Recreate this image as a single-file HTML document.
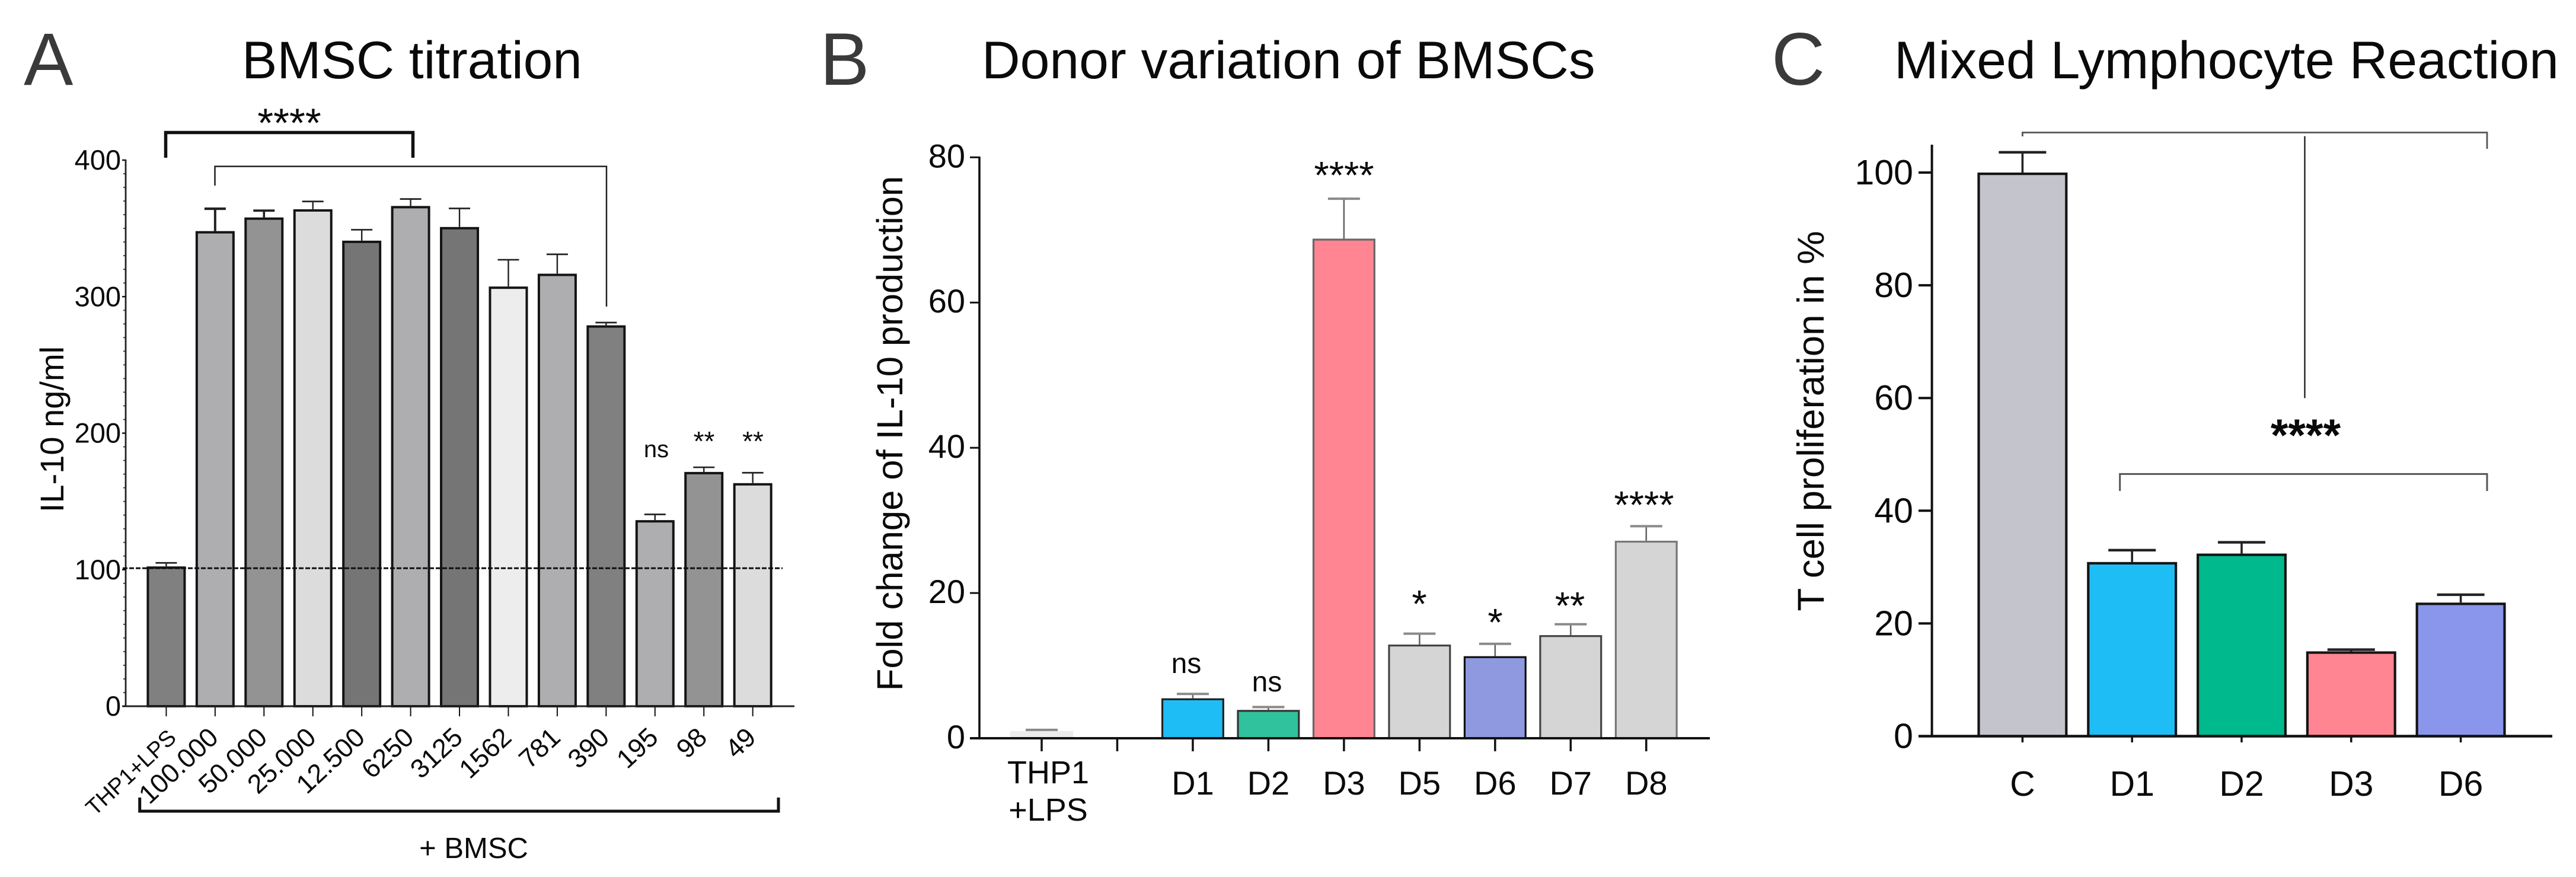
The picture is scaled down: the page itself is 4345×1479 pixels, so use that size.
<!DOCTYPE html>
<html lang="en">
<head>
<meta charset="utf-8">
<title>BMSC titration, donor variation and mixed lymphocyte reaction</title>
<style>
  html, body { margin: 0; padding: 0; background: #fff; }
  svg { display: block; }
  text { font-family: "Liberation Sans", sans-serif; fill: #0a0a0a; }
</style>
</head>
<body>
<svg id="figure" xmlns="http://www.w3.org/2000/svg" width="4345" height="1479" viewBox="0 0 4345 1479">
  <rect x="0" y="0" width="4345" height="1479" fill="#fff"/>

  <!-- Panel letters and titles -->
  <text x="40" y="143" font-size="125" style="fill:#3a3a3a">A</text>
  <text x="1383" y="143" font-size="125" style="fill:#3a3a3a">B</text>
  <text x="2988" y="143" font-size="125" style="fill:#3a3a3a">C</text>
  <text x="408" y="132" font-size="89">BMSC titration</text>
  <text x="1656" y="132" font-size="89.5">Donor variation of BMSCs</text>
  <text x="3195" y="132" font-size="89.5">Mixed Lymphocyte Reaction</text>

  <!-- Axis titles -->
  <text transform="translate(107 724) rotate(-90)" text-anchor="middle" font-size="56">IL-10 ng/ml</text>
  <text transform="translate(1522 731) rotate(-90)" text-anchor="middle" font-size="61.5">Fold change of IL-10 production</text>
  <text transform="translate(3076 710) rotate(-90)" text-anchor="middle" font-size="63.5">T cell proliferation in %</text>

  <g id="panel-a"></g>
  <g id="panel-b"></g>
  <g id="panel-c"></g>

  <!-- Panel A annotations -->
  <path d="M279.5 266V223.5H696.5V266" fill="none" stroke="#111" stroke-width="5.5"/>
  <path d="M362.5 313V280.6H1023V517" fill="none" stroke="#222" stroke-width="2.5"/>
  <text x="488" y="231" text-anchor="middle" font-size="69">****</text>
  <text x="1107" y="771" text-anchor="middle" font-size="40">ns</text>
  <text x="1187.5" y="760" text-anchor="middle" font-size="46">**</text>
  <text x="1270" y="760" text-anchor="middle" font-size="46">**</text>
  <path d="M235.7 1345V1368H1313V1345" fill="none" stroke="#111" stroke-width="5"/>
  <text x="799" y="1447" text-anchor="middle" font-size="49">+ BMSC</text>

  <!-- Panel B annotations -->
  <text x="2001" y="1135" text-anchor="middle" font-size="48">ns</text>
  <text x="2137" y="1166" text-anchor="middle" font-size="48">ns</text>
  <text x="2267" y="318" text-anchor="middle" font-size="65">****</text>
  <text x="2394" y="1041" text-anchor="middle" font-size="65">*</text>
  <text x="2522" y="1072" text-anchor="middle" font-size="65">*</text>
  <text x="2648" y="1044" text-anchor="middle" font-size="65">**</text>
  <text x="2773" y="874" text-anchor="middle" font-size="65">****</text>

  <!-- Panel C annotations -->
  <path d="M3411.4 230V223.5H4195V251" fill="none" stroke="#555" stroke-width="2.8"/>
  <line x1="3887.5" y1="229.6" x2="3887.5" y2="671.4" stroke="#111" stroke-width="2.2"/>
  <path d="M3575.7 828V799.4H4195V828" fill="none" stroke="#555" stroke-width="3"/>
  <text x="3889" y="760" text-anchor="middle" font-size="76" font-weight="bold">****</text>
</svg>

<script>
// ---- Panel A data: BMSC titration ----
const aCategories = ['THP1+LPS', '100.000', '50.000', '25.000', '12.500', '6250', '3125', '1562', '781', '390', '195', '98', '49'];
const aValues = [102.4, 348, 358, 364, 341, 366.4, 351, 307.4, 316.8, 279, 136.3, 171.6, 163.4];
const aErrors = [2.6, 16.4, 5, 5.7, 8, 5.1, 13.6, 19.6, 14.2, 2, 4.2, 3.4, 7.6];
const aYTickLabels = [0, 100, 200, 300, 400];
const aReferenceLine = [100];

// ---- Panel B data: donor variation ----
const bCategories = ['THP1 +LPS', '', 'D1', 'D2', 'D3', 'D5', 'D6', 'D7', 'D8'];
const bValues = [1.0, 0, 5.5, 3.9, 68.8, 12.9, 11.3, 14.2, 27.2];
const bErrors = [0.15, 0, 0.6, 0.4, 5.5, 1.5, 1.7, 1.5, 2.0];
const bYTickLabels = [0, 20, 40, 60, 80];

// ---- Panel C data: mixed lymphocyte reaction ----
const cCategories = ['C', 'D1', 'D2', 'D3', 'D6'];
const cValues = [100, 30.9, 32.4, 15.05, 23.7];
const cErrors = [3.6, 2.1, 2, 0.3, 1.4];
const cYTickLabels = [0, 20, 40, 60, 80, 100];

// ---- Bar styling (separate from the data) ----
const aFills = ['#808080', '#aeaeb0', '#939393', '#dcdcdc', '#757575', '#aeaeb0', '#757575', '#ededed', '#aeaeb0', '#808080', '#aeaeb0', '#939393', '#dcdcdc'];
const aErrorWeights = [2.4, 4, 3.6, 2.4, 2.4, 2.4, 2.4, 2.4, 2.4, 2.4, 2.4, 2.4, 2.4];
const bFills = ['#ececec', 'none', '#1fbdf6', '#2fc29c', '#ff8592', '#d5d5d5', '#8f99df', '#d5d5d5', '#d5d5d5'];
const bStrokes = ['#ececec', 'none', '#222', '#333', '#666', '#444', '#111', '#444', '#777'];
const cFills = ['#c3c4cc', '#1fbdf6', '#00b98c', '#ff8592', '#8a96ec'];

const NS = 'http://www.w3.org/2000/svg';
function el(tag, attrs, parent) {
  const node = document.createElementNS(NS, tag);
  for (const key in attrs) node.setAttribute(key, attrs[key]);
  parent.appendChild(node);
  return node;
}
function slug(s) {
  return String(s).toLowerCase().replace(/[^a-z0-9]+/g, '-').replace(/^-|-$/g, '') || 'blank';
}

// Axis functions
const aY = v => 1191 - v * 2.3025;
const aX = i => 280.4 + i * 82.44;
const bY = v => 1245 - v * 12.246;
const bX = i => 1757 + i * 127.47;
const cY = v => 1241.5 - v * 9.505;
const cX = i => 3411.4 + i * 184.8;

function drawBars(group, cats, vals, errs, xFn, yFn, opt) {
  cats.forEach(function (cat, i) {
    if (opt.fills[i] === 'none') return;
    const sw = opt.strokeWidth;
    const top = yFn(vals[i]);
    const base = yFn(0);
    const stroke = opt.strokes ? opt.strokes[i] : opt.stroke;
    const rect = el('rect', {
      x: xFn(i) - opt.width / 2 + sw / 2,
      y: top + sw / 2,
      width: opt.width - sw,
      height: Math.max(0, base - top - sw / 2),
      fill: opt.fills[i],
      stroke: stroke,
      'stroke-width': sw
    }, group);
    
    

    const errTop = yFn(vals[i] + errs[i]);
    const errW = opt.errWeights ? opt.errWeights[i] : opt.errWidth;
    const capW = opt.errWeights ? opt.errWeights[i] + 0.3 : opt.capWidth;
    const errStem = el('line', { x1: xFn(i), y1: top, x2: xFn(i), y2: errTop, stroke: opt.errColor, 'stroke-width': errW }, group);
    
    
    const errCap = el('line', { x1: xFn(i) - opt.capHalf, y1: errTop, x2: xFn(i) + opt.capHalf, y2: errTop, stroke: opt.capColor, 'stroke-width': capW }, group);
    
    
  });
}

function drawYTicks(group, labels, yFn, opt) {
  labels.forEach(function (v) {
    const tick = el('line', { x1: opt.tickX1, y1: yFn(v), x2: opt.axisX, y2: yFn(v), stroke: '#111', 'stroke-width': opt.tickWidth }, group);
    
    
    const label = el('text', { x: opt.labelX, y: yFn(v) + opt.labelDy, 'text-anchor': 'end', 'font-size': opt.fontSize }, group);
    label.textContent = v;
    
    
  });
}

function drawXTicks(group, cats, xFn, y0, y1, width) {
  cats.forEach(function (cat, i) {
    const tick = el('line', { x1: xFn(i), y1: y0, x2: xFn(i), y2: y1, stroke: '#111', 'stroke-width': width }, group);
    
    
  });
}

// ---- Panel A ----
(function () {
  const g = document.getElementById('panel-a');
  for (let v = 0; v <= 400; v += 10) {
    if (v % 100 === 0) continue;
    const minor = el('line', { x1: 208, y1: aY(v), x2: 212, y2: aY(v), stroke: '#333', 'stroke-width': 1.8 }, g);
    
    
  }
  drawBars(g, aCategories, aValues, aErrors, aX, aY, {
    width: 66, strokeWidth: 4, stroke: '#141414', fills: aFills, errWeights: aErrorWeights,
    errColor: '#222', capColor: '#222', capHalf: 18
  });
  drawXTicks(g, aCategories, aX, 1191, 1208, 2);
  const yAxis = el('line', { x1: 212, y1: 269, x2: 212, y2: 1192, stroke: '#222', 'stroke-width': 2.8 }, g);
  
  
  const xAxis = el('line', { x1: 207, y1: 1191, x2: 1340, y2: 1191, stroke: '#222', 'stroke-width': 3 }, g);
  
  
  drawYTicks(g, aYTickLabels, aY, { tickX1: 206, axisX: 212, tickWidth: 2.4, labelX: 204, labelDy: 16, fontSize: 47 });

  const refLine = el('line', { x1: 207, y1: aY(aReferenceLine[0]) - 2.5, x2: 1320, y2: aY(aReferenceLine[0]) - 2.5, stroke: '#111', 'stroke-width': 3, 'stroke-dasharray': '8 3' }, g);
  
  

  aCategories.forEach(function (cat, i) {
    const first = i === 0;
    const bx = aX(i) + (first ? 19 : 8);
    const by = 1247;
    const label = el('text', { transform: 'translate(' + bx + ' ' + by + ') rotate(-43)', 'text-anchor': 'end', 'font-size': first ? 38 : 45 }, g);
    label.textContent = cat;
    
    
  });
})();

// ---- Panel B ----
(function () {
  const g = document.getElementById('panel-b');
  drawBars(g, bCategories, bValues, bErrors, bX, bY, {
    width: 106, strokeWidth: 3.2, strokes: bStrokes, fills: bFills,
    errColor: '#666', errWidth: 2.6, capColor: '#8a8a8a', capWidth: 4, capHalf: 27
  });
  drawXTicks(g, bCategories, bX, 1245, 1267, 3.5);
  const yAxis = el('line', { x1: 1652, y1: 264, x2: 1652, y2: 1247, stroke: '#111', 'stroke-width': 3.6 }, g);
  
  
  const xAxis = el('line', { x1: 1636, y1: 1245, x2: 2884, y2: 1245, stroke: '#111', 'stroke-width': 4 }, g);
  
  
  drawYTicks(g, bYTickLabels, bY, { tickX1: 1636, axisX: 1652, tickWidth: 3, labelX: 1628, labelDy: 17, fontSize: 56 });

  const thp1 = el('text', { x: 1768, y: 1321, 'text-anchor': 'middle', 'font-size': 54 }, g);
  thp1.textContent = 'THP1';
  
  
  const lps = el('text', { x: 1768, y: 1384, 'text-anchor': 'middle', 'font-size': 54 }, g);
  lps.textContent = '+LPS';
  
  
  bCategories.forEach(function (cat, i) {
    if (i < 2) return;
    const label = el('text', { x: bX(i), y: 1340, 'text-anchor': 'middle', 'font-size': 56 }, g);
    label.textContent = cat;
    
    
  });
})();

// ---- Panel C ----
(function () {
  const g = document.getElementById('panel-c');
  drawBars(g, cCategories, cValues, cErrors, cX, cY, {
    width: 152, strokeWidth: 4.2, stroke: '#141414', fills: cFills,
    errColor: '#222', errWidth: 3.6, capColor: '#222', capWidth: 4.4, capHalf: 40
  });
  drawXTicks(g, cCategories, cX, 1241.5, 1252, 3.5);
  const yAxis = el('line', { x1: 3258.6, y1: 244, x2: 3258.6, y2: 1243, stroke: '#111', 'stroke-width': 4 }, g);
  
  
  const xAxis = el('line', { x1: 3236, y1: 1241.5, x2: 4305, y2: 1241.5, stroke: '#111', 'stroke-width': 4.4 }, g);
  
  
  drawYTicks(g, cYTickLabels, cY, { tickX1: 3236, axisX: 3258.6, tickWidth: 4, labelX: 3227, labelDy: 20, fontSize: 59 });
  cCategories.forEach(function (cat, i) {
    const label = el('text', { x: cX(i), y: 1342, 'text-anchor': 'middle', 'font-size': 59 }, g);
    label.textContent = cat;
    
    
  });
})();
</script>
</body>
</html>
